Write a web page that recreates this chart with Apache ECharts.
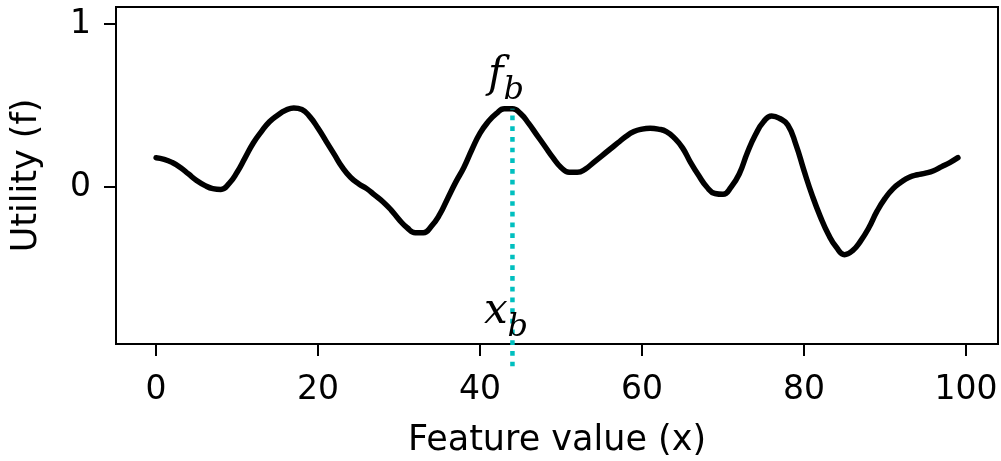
<!DOCTYPE html>
<html>
<head>
<meta charset="utf-8">
<script src="https://cdn.jsdelivr.net/npm/echarts@6/dist/echarts.min.js"></script>
<style>
html,body{margin:0;padding:0;background:#fff;}
#chart{width:1001px;height:461px;}
</style>
</head>
<body>
<div id="chart"></div>
<script>
// Feature values (x) 0..99
const xValues = Array.from({length: 100}, (_, i) => i);
// Utility values
const utility = [
  0.18, 0.17, 0.15, 0.12, 0.08, 0.04, 0.01, -0.01, -0.015, 0.02,
  0.09, 0.18, 0.27, 0.34, 0.40, 0.44, 0.47, 0.485, 0.475, 0.43,
  0.36, 0.28, 0.20, 0.12, 0.06, 0.02, -0.01, -0.05, -0.09, -0.14,
  -0.20, -0.25, -0.28, -0.28, -0.24, -0.17, -0.07, 0.03, 0.12, 0.23,
  0.33, 0.40, 0.45, 0.48, 0.48, 0.45, 0.39, 0.32, 0.25, 0.18,
  0.12, 0.09, 0.09, 0.11, 0.15, 0.19, 0.23, 0.27, 0.31, 0.34,
  0.355, 0.36, 0.355, 0.34, 0.30, 0.24, 0.15, 0.07, 0.00, -0.04,
  -0.045, 0.00, 0.08, 0.21, 0.32, 0.40, 0.435, 0.42, 0.38, 0.26,
  0.10, -0.05, -0.18, -0.29, -0.37, -0.415, -0.39, -0.33, -0.25, -0.15,
  -0.07, -0.01, 0.03, 0.06, 0.075, 0.085, 0.10, 0.125, 0.15, 0.18
];
// Best feature value and its marker line
const xBest = 44;
const bestLine = [[xBest, -1.1], [xBest, 0.48]];
const xTicks = [0, 20, 40, 60, 80, 100];
const yTicks = [0, 1];

const chart = echarts.init(document.getElementById('chart'));
const font = 'DejaVu Sans';
chart.setOption({
  animation: false,
  grid: {left: 116, right: 3, top: 7, bottom: 117, show: true, borderColor: '#000', borderWidth: 2,
    containLabel: false, outerBoundsMode: 'none'},
  xAxis: {
    type: 'value', min: -4.95, max: 103.95, interval: 20,
    name: 'Feature value (x)', nameLocation: 'middle', nameGap: 79,
    nameTextStyle: {fontFamily: font, fontSize: 35, color: '#000'},
    axisLine: {show: true, onZero: false, lineStyle: {color: '#000', width: 2}},
    axisTick: {show: true, length: 12, lineStyle: {color: '#000', width: 2},
      customValues: xTicks},
    axisLabel: {fontFamily: font, fontSize: 33, color: '#000', margin: 30,
      customValues: xTicks},
    splitLine: {show: false}
  },
  yAxis: {
    type: 'value', min: -0.963, max: 1.104,
    name: 'Utility (f)', nameLocation: 'middle', nameGap: 72, nameRotate: 90,
    nameTextStyle: {fontFamily: font, fontSize: 35, color: '#000'},
    axisLine: {show: true, onZero: false, lineStyle: {color: '#000', width: 2}},
    axisTick: {show: true, length: 12, lineStyle: {color: '#000', width: 2},
      customValues: yTicks},
    axisLabel: {fontFamily: font, fontSize: 33, color: '#000', margin: 25,
      customValues: yTicks},
    splitLine: {show: false}
  },
  series: [
    {
      type: 'line', data: xValues.map((x, i) => [x, utility[i]]),
      smooth: 0.5, showSymbol: false, symbol: 'none',
      lineStyle: {color: '#000', width: 5.5, cap: 'round', join: 'round'},
      z: 3
    },
    {
      type: 'line', data: bestLine, clip: false, showSymbol: false, symbol: 'none',
      lineStyle: {color: '#00bfbf', width: 4.5, type: [4.7, 6], cap: 'butt'},
      z: 4
    },
    {
      type: 'scatter', symbolSize: 0, clip: false, silent: true,
      itemStyle: {color: '#000', opacity: 1},
      data: [
        {value: [43.2, 0.68], name: 'f'},
        {value: [43.2, -0.77], name: 'x'}
      ],
      label: {
        show: true, position: 'inside', color: '#000', opacity: 1,
        textBorderWidth: 0,
        formatter: p => '{m|' + p.name + '}{s|b}',
        rich: {
          m: {fontFamily: 'DejaVu Serif', fontStyle: 'italic', fontSize: 42, color: '#000', textBorderWidth: 0, verticalAlign: 'bottom'},
          s: {fontFamily: 'DejaVu Serif', fontStyle: 'italic', fontSize: 32, color: '#000', textBorderWidth: 0, verticalAlign: 'bottom', padding: [0, 0, -10, 0]}
        }
      },
      z: 5
    }
  ]
});
</script>
</body>
</html>
